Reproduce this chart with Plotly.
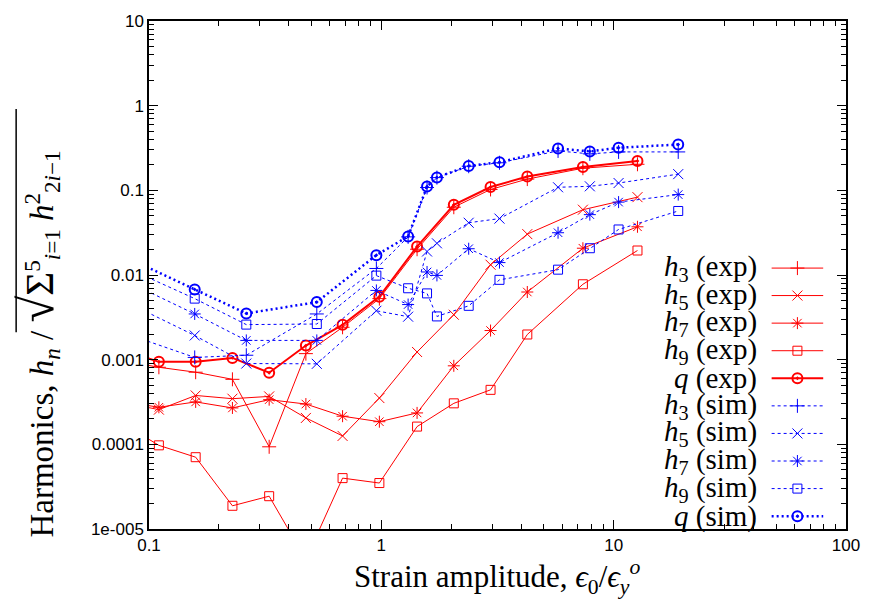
import plotly.graph_objects as go

# ---------------- data ----------------
x_exp = [0.0767, 0.1103, 0.1588, 0.2286, 0.3290, 0.4734, 0.6810, 0.9806,
         1.425, 2.051, 2.952, 4.249, 7.372, 12.66]
h3_exp = [0.000976, 0.000813, 0.000711, 0.000586, 0.0000935, 0.001178, 0.002413,
          0.005260, 0.02016, 0.06315, 0.1024, 0.1358, 0.1825, 0.2032]
h5_exp = [0.000313, 0.000257, 0.000378, 0.000346, 0.000368, 0.000205, 0.0001256,
          0.000352, 0.001232, 0.003394, 0.01322, 0.03040, 0.05904, 0.08308]
h7_exp = [0.000322, 0.000274, 0.000317, 0.000269, 0.000337, 0.000299, 0.000215,
          0.000185, 0.000235, 0.000846, 0.002208, 0.006298, 0.02071, 0.03710]
h9_exp = [0.000178, 0.0000973, 0.0000705, 0.0000188, 0.0000244, 0.00000437,
          0.0000399, 0.0000349, 0.000162, 0.000305, 0.000440, 0.001983, 0.00777, 0.01947]
q_exp = [0.00131, 0.000942, 0.000942, 0.001049, 0.000701, 0.001468, 0.002580,
         0.005551, 0.02167, 0.06753, 0.1095, 0.1453, 0.1890, 0.2221]

x_sim = [0.0744, 0.1573, 0.2623, 0.5275, 0.9519, 1.304, 1.573, 1.735,
         2.377, 3.225, 5.763, 7.896, 10.50, 18.96]
h3_sim = [0.002161, 0.001063, 0.001128, 0.003467, 0.01194, 0.02820, 0.1081, 0.1414,
          0.1926, 0.2116, 0.2921, 0.2695, 0.2843, 0.2843]
h5_sim = [0.005274, 0.001930, 0.000900, 0.000893, 0.003780, 0.003217, 0.01895, 0.02368,
          0.04142, 0.04636, 0.1087, 0.1116, 0.1220, 0.1554]
h7_sim = [0.009322, 0.003467, 0.001688, 0.001688, 0.006574, 0.004476, 0.01086, 0.009890,
          0.02043, 0.01402, 0.03157, 0.05163, 0.07261, 0.08907]
h9_sim = [0.01336, 0.005260, 0.002595, 0.002637, 0.009835, 0.006975, 0.006063, 0.003243,
          0.004323, 0.008764, 0.01156, 0.02071, 0.03449, 0.05702]
q_sim = [0.01768, 0.006753, 0.003514, 0.004787, 0.01716, 0.02858, 0.1110, 0.1422,
         0.1941, 0.2145, 0.3124, 0.2883, 0.3183, 0.3477]

series_labels = ["<i>h</i><sub>3</sub> (exp)", "<i>h</i><sub>5</sub> (exp)",
                 "<i>h</i><sub>7</sub> (exp)", "<i>h</i><sub>9</sub> (exp)",
                 "<i>q</i> (exp)",
                 "<i>h</i><sub>3</sub> (sim)", "<i>h</i><sub>5</sub> (sim)",
                 "<i>h</i><sub>7</sub> (sim)", "<i>h</i><sub>9</sub> (sim)",
                 "<i>q</i> (sim)"]

x_tick_vals = [0.1, 1, 10, 100]
x_tick_text = ["0.1", "1", "10", "100"]
y_tick_vals = [1e-5, 1e-4, 1e-3, 1e-2, 1e-1, 1, 10]
y_tick_text = ["1e-005", "0.0001", "0.001", "0.01", "0.1", "1", "10"]

# ---------------- styles ----------------
RED = "#ff0000"
BLUE = "#0000ff"
styles = [
    dict(color=RED, width=1, dash="solid", symbol="cross-thin", size=10),
    dict(color=RED, width=1, dash="solid", symbol="x-thin", size=10),
    dict(color=RED, width=1, dash="solid", symbol="asterisk-open", size=10),
    dict(color=RED, width=1, dash="solid", symbol="square-open", size=9),
    dict(color=RED, width=2, dash="solid", symbol="circle-open-dot", size=10),
    dict(color=BLUE, width=1, dash="3px,3px", symbol="cross-thin", size=10),
    dict(color=BLUE, width=1, dash="3px,3px", symbol="x-thin", size=10),
    dict(color=BLUE, width=1, dash="3px,3px", symbol="asterisk-open", size=10),
    dict(color=BLUE, width=1, dash="3px,3px", symbol="square-open", size=9),
    dict(color=BLUE, width=2.5, dash="2px,3px", symbol="circle-open-dot", size=10),
]
data = [(x_exp, h3_exp), (x_exp, h5_exp), (x_exp, h7_exp), (x_exp, h9_exp), (x_exp, q_exp),
        (x_sim, h3_sim), (x_sim, h5_sim), (x_sim, h7_sim), (x_sim, h9_sim), (x_sim, q_sim)]

fig = go.Figure()
for (xs, ys), st in zip(data, styles):
    mw = 2 if st["width"] >= 2 else 1
    fig.add_trace(go.Scatter(
        x=xs, y=ys, mode="lines+markers", showlegend=False,
        line=dict(color=st["color"], width=st["width"], dash=st["dash"]),
        marker=dict(symbol=st["symbol"], size=st["size"], color=st["color"],
                    line=dict(color=st["color"], width=mw)),
        cliponaxis=True,
    ))

# ---------------- legend (text left, sample right, like gnuplot) ----------------
W, H = 703.0, 514.0
L, T = 149.0, 15.0
row_y = [265, 292.8, 320.7, 348.6, 376.5, 404.4, 432.3, 460.2, 488.1, 516.0]
sx0, sx1, smid, tx = (777 - L) / W, (829 - L) / W, (803 - L) / W, (764 - L) / W
for ry, st, lab in zip(row_y, styles, series_labels):
    yy = (T + H - ry) / H
    fig.add_trace(go.Scatter(
        x=[sx0, sx1], y=[yy, yy], mode="lines", xaxis="x2", yaxis="y2", showlegend=False,
        line=dict(color=st["color"], width=st["width"], dash=st["dash"]), hoverinfo="skip"))
    mw = 2 if st["width"] >= 2 else 1
    fig.add_trace(go.Scatter(
        x=[smid], y=[yy], mode="markers", xaxis="x2", yaxis="y2", showlegend=False,
        marker=dict(symbol=st["symbol"], size=st["size"], color=st["color"],
                    line=dict(color=st["color"], width=mw)), hoverinfo="skip"))
    fig.add_annotation(x=tx, y=yy, xref="x2", yref="y2", text=lab, showarrow=False,
                       xanchor="right", yanchor="middle",
                       font=dict(family="Liberation Serif", size=29, color="black"))

axis_common = dict(showline=True, linecolor="black", linewidth=1.5, mirror="ticks",
                   ticks="inside", ticklen=9, tickwidth=1, tickcolor="black",
                   showgrid=False, zeroline=False,
                   tickfont=dict(family="Liberation Sans", size=17, color="black"),
                   minor=dict(ticks="inside", ticklen=5, tickwidth=1, tickcolor="black",
                              dtick="D1", showgrid=False))

fig.update_layout(
    width=872, height=606,
    margin=dict(l=149, r=20, t=15, b=77),
    paper_bgcolor="white", plot_bgcolor="white",
    xaxis=dict(type="log", range=[-1, 2], tickmode="array", tickvals=x_tick_vals,
               ticktext=x_tick_text, **axis_common),
    yaxis=dict(type="log", range=[-5, 1], tickmode="array", tickvals=y_tick_vals,
               ticktext=y_tick_text, **axis_common),
    xaxis2=dict(overlaying="x", range=[0, 1], visible=False, fixedrange=True),
    yaxis2=dict(overlaying="y", range=[0, 1], visible=False, fixedrange=True),
)

fig.add_annotation(x=0.499, y=-0.095, xref="paper", yref="paper", showarrow=False,
                   xanchor="center", yanchor="middle",
                   text="Strain amplitude, <i>ϵ</i><sub>0</sub>/<i>ϵ</i><sub><i>y</i></sub><sup><i>o</i></sup>",
                   font=dict(family="Liberation Serif", size=31, color="black"))
fig.add_annotation(x=-0.16, y=0.364, xref="paper", yref="paper", showarrow=False,
                   xanchor="center", yanchor="middle", textangle=-90,
                   text="Harmonics, <i>h<sub>n</sub></i> / "
                        "<span style='font-size:49px'>√</span>"
                        "<span style='font-size:41px'>Σ</span><sup>5</sup><sub><i>i</i>=1</sub> "
                        "<i>h</i><sup>2</sup><sub>2<i>i</i>−1</sub>",
                   font=dict(family="Liberation Serif", size=33, color="black"))
# overline of the square root (a text decoration, drawn as a line in paper space)
fig.add_shape(type="line", xref="paper", yref="paper",
              x0=(15 - L) / W, x1=(15 - L) / W,
              y0=(T + H - 330) / H, y1=(T + H - 104) / H,
              line=dict(color="black", width=1.5))

fig.write_html("out.html")
